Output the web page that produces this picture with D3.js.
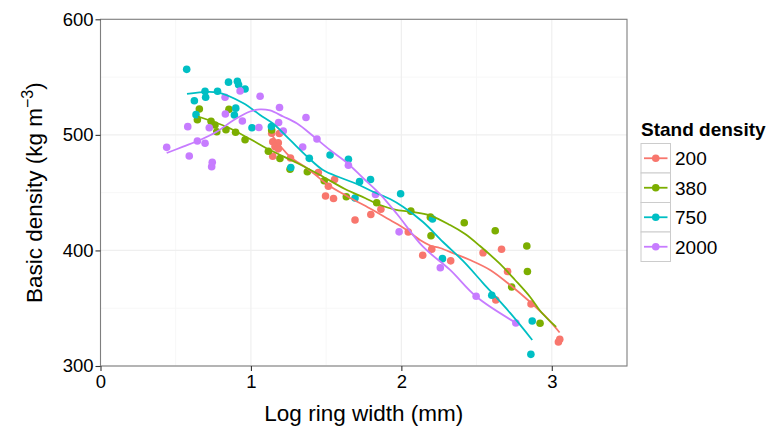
<!DOCTYPE html>
<html>
<head>
<meta charset="utf-8">
<script src="https://cdn.jsdelivr.net/npm/d3@7"></script>
<style>
  html, body { margin: 0; padding: 0; background: #ffffff; }
  svg text { font-family: "Liberation Sans", Arial, Helvetica, sans-serif; }
</style>
</head>
<body>
<svg id="chart" width="771" height="429"></svg>
<script>
// ---------- data ----------
const groups = ["200", "380", "750", "2000"];
const xTicks = [0, 1, 2, 3];
const yTicks = [300, 400, 500, 600];
const xMinor = [0.5, 1.5, 2.5];
const yMinor = [350, 450, 550];

const x200 = [1.138,1.189,1.145,1.182,1.160,1.182,1.145,1.263,1.448,1.556,1.515,1.496,1.549,1.692,1.797,1.864,2.046,2.142,2.202,2.328,2.543,2.666,2.706,2.628,2.862,3.044,3.053];
const y200 = [501.4,501.2,494.1,493.2,489.8,487.9,481.5,480.0,467.4,461.4,455.5,447.1,444.9,426.3,431.1,435.7,416.0,395.8,401.1,391.0,398.0,401.0,381.8,357.1,353.7,320.8,323.1];

const x380 = [0.657,0.644,0.735,0.761,0.773,0.854,0.834,0.898,0.961,1.116,1.138,1.193,1.260,1.375,1.487,1.634,1.836,2.063,2.193,2.197,2.418,2.624,2.834,2.838,2.733,2.922];
const y380 = [522.4,513.1,511.7,508.5,502.7,522.1,504.5,502.2,495.8,485.8,504.2,479.6,470.3,468.1,460.3,446.5,441.3,434.0,428.8,412.7,423.9,417.0,403.8,381.8,368.4,337.0];

const x750 = [0.573,0.851,0.910,0.918,0.961,0.778,0.695,0.699,0.624,0.899,0.890,0.635,1.007,1.136,1.265,1.388,1.526,1.648,1.722,1.795,1.692,1.995,2.207,2.273,2.601,2.870,2.861];
const y750 = [556.7,545.6,546.4,543.4,539.7,537.8,537.8,532.5,529.5,523.1,517.2,517.5,506.2,507.2,471.8,479.7,482.6,478.9,459.5,461.4,445.4,449.1,427.2,392.9,361.2,338.9,310.1];

const x2000 = [0.440,0.580,0.590,0.644,0.695,0.723,0.739,0.743,0.828,0.830,0.928,0.943,1.061,1.053,1.190,1.184,1.215,1.366,1.439,1.344,1.648,1.828,1.985,2.259,2.497,2.761];
const y2000 = [489.2,507.1,481.7,494.7,492.7,506.2,472.5,476.3,532.5,518.1,538.0,512.0,533.4,506.4,523.7,510.7,503.3,515.0,496.4,489.5,473.7,448.4,416.1,385.0,360.3,337.2];

// smoothed (loess) curves
const sx200 = [1.138,1.260,1.380,1.513,1.646,1.792,1.925,2.025,2.124,2.191,2.257,2.357,2.457,2.590,2.723,2.856,2.955,3.052];
const sy200 = [499.9,481.1,470.5,456.6,446.5,436.3,426.3,418.6,409.0,404.3,402.1,396.9,391.7,383.1,370.1,355.4,343.3,329.0];

const sx380 = [0.648,0.841,0.994,1.127,1.307,1.459,1.625,1.758,1.858,1.958,2.058,2.191,2.324,2.424,2.523,2.656,2.756,2.856,2.929,3.029];
const sy380 = [515.9,506.8,496.4,486.9,475.7,465.3,453.2,445.4,439.3,435.4,433.5,430.2,422.0,414.2,403.8,388.3,374.4,359.7,346.7,333.8];

const sx750 = [0.575,0.775,0.947,1.061,1.147,1.260,1.373,1.479,1.592,1.705,1.812,1.925,2.011,2.144,2.277,2.410,2.543,2.723,2.870];
const sy750 = [535.4,536.8,527.6,517.2,509.8,495.6,481.3,469.6,463.1,457.5,450.8,444.5,437.8,424.6,407.3,390.9,371.8,345.9,322.5];

const sx2000 = [0.440,0.549,0.662,0.775,0.881,0.994,1.061,1.127,1.214,1.307,1.413,1.526,1.640,1.745,1.858,1.971,2.144,2.324,2.497,2.763];
const sy2000 = [484.3,489.8,495.6,502.9,512.4,520.2,522.1,521.1,515.9,509.8,499.0,486.9,475.7,462.7,448.8,431.5,403.2,383.1,360.1,337.2];

// ---------- build ----------
const pointSets = [[x200, y200], [x380, y380], [x750, y750], [x2000, y2000]];
const smoothSets = [[sx200, sy200], [sx380, sy380], [sx750, sy750], [sx2000, sy2000]];
const palette = ["#F8766D", "#7CAE00", "#00BFC4", "#C77CFF"];
const FONT = '"Liberation Sans", Arial, Helvetica, sans-serif';

const svg = d3.select("#chart");
const panel = { left: 100.5, right: 627, top: 19.3, bottom: 366 };

const x = d3.scaleLinear().domain([0, 3.5]).range([panel.left, panel.right]);
const y = d3.scaleLinear().domain([300, 600]).range([panel.bottom, panel.top]);
const color = d3.scaleOrdinal().domain(groups).range(palette);

// panel background
svg.append("rect")
  .attr("x", panel.left).attr("y", panel.top)
  .attr("width", panel.right - panel.left).attr("height", panel.bottom - panel.top)
  .attr("fill", "#ffffff");

// minor grid
const grid = svg.append("g");
grid.selectAll("line.xm").data(xMinor).enter().append("line")
  .attr("x1", d => x(d)).attr("x2", d => x(d))
  .attr("y1", panel.top).attr("y2", panel.bottom)
  .attr("stroke", "#f7f7f7").attr("stroke-width", 1);
grid.selectAll("line.ym").data(yMinor).enter().append("line")
  .attr("y1", d => y(d)).attr("y2", d => y(d))
  .attr("x1", panel.left).attr("x2", panel.right)
  .attr("stroke", "#f7f7f7").attr("stroke-width", 1);
// major grid
grid.selectAll("line.xg").data(xTicks).enter().append("line")
  .attr("x1", d => x(d)).attr("x2", d => x(d))
  .attr("y1", panel.top).attr("y2", panel.bottom)
  .attr("stroke", "#efefef").attr("stroke-width", 1.2);
grid.selectAll("line.yg").data(yTicks).enter().append("line")
  .attr("y1", d => y(d)).attr("y2", d => y(d))
  .attr("x1", panel.left).attr("x2", panel.right)
  .attr("stroke", "#efefef").attr("stroke-width", 1.2);

// points
const pts = svg.append("g");
groups.forEach((g, i) => {
  const [xs, ys] = pointSets[i];
  const data = xs.map((v, k) => ({ x: v, y: ys[k] }));
  pts.append("g").selectAll("circle").data(data).enter().append("circle")
    .attr("cx", d => x(d.x)).attr("cy", d => y(d.y)).attr("r", 3.8)
    .attr("fill", color(g));
});

// smooth lines
const line = d3.line().x(d => x(d.x)).y(d => y(d.y)).curve(d3.curveCatmullRom.alpha(0.5));
const lines = svg.append("g");
groups.forEach((g, i) => {
  const [xs, ys] = smoothSets[i];
  const data = xs.map((v, k) => ({ x: v, y: ys[k] }));
  lines.append("path").datum(data)
    .attr("d", line).attr("fill", "none")
    .attr("stroke", color(g)).attr("stroke-width", 1.8);
});

// panel border
svg.append("rect")
  .attr("x", panel.left).attr("y", panel.top)
  .attr("width", panel.right - panel.left).attr("height", panel.bottom - panel.top)
  .attr("fill", "none").attr("stroke", "#7f7f7f").attr("stroke-width", 1.1);

// axes
const xAxis = d3.axisBottom(x).tickValues(xTicks).tickSize(5).tickPadding(4).tickFormat(d3.format("d"));
const yAxis = d3.axisLeft(y).tickValues(yTicks).tickSize(5).tickPadding(2).tickFormat(d3.format("d"));

const gx = svg.append("g").attr("transform", `translate(0,${panel.bottom})`).call(xAxis);
const gy = svg.append("g").attr("transform", `translate(${panel.left},0)`).call(yAxis);
[gx, gy].forEach(g => {
  g.select(".domain").remove();
  g.selectAll(".tick line").attr("stroke", "#333333").attr("stroke-width", 1.1);
  g.selectAll(".tick text").attr("fill", "#000000").attr("font-size", 18.5)
    .style("font-family", FONT);
});

// axis titles
svg.append("text")
  .attr("x", (panel.left + panel.right) / 2).attr("y", 421)
  .attr("text-anchor", "middle").attr("font-size", 22.5).attr("fill", "#000")
  .text("Log ring width (mm)");

const yt = svg.append("text")
  .attr("transform", `translate(42,${(panel.top + panel.bottom) / 2}) rotate(-90)`)
  .attr("text-anchor", "middle").attr("font-size", 22.5).attr("fill", "#000");
yt.append("tspan").text("Basic density (kg m");
yt.append("tspan").attr("font-size", 16).attr("dy", -9).text("\u22123");
yt.append("tspan").attr("dy", 9).text(")");

// legend
const lg = svg.append("g").attr("transform", "translate(641,0)");
lg.append("text").attr("x", 0).attr("y", 136)
  .attr("font-size", 19).attr("font-weight", "bold").attr("fill", "#000")
  .text("Stand density");
const keySize = 29.5, keyTop = 143.5;
groups.forEach((g, i) => {
  const ky = keyTop + i * keySize;
  lg.append("rect").attr("x", 0).attr("y", ky).attr("width", 29.5).attr("height", keySize)
    .attr("fill", "#ffffff").attr("stroke", "#cccccc").attr("stroke-width", 1);
  lg.append("line").attr("x1", 3).attr("x2", 26.5)
    .attr("y1", ky + keySize / 2).attr("y2", ky + keySize / 2)
    .attr("stroke", color(g)).attr("stroke-width", 1.8);
  lg.append("circle").attr("cx", 14.75).attr("cy", ky + keySize / 2).attr("r", 3.8)
    .attr("fill", color(g));
  lg.append("text").attr("x", 34).attr("y", ky + keySize / 2).attr("dy", "0.36em")
    .attr("font-size", 19).attr("fill", "#000").text(g);
});
</script>
</body>
</html>
